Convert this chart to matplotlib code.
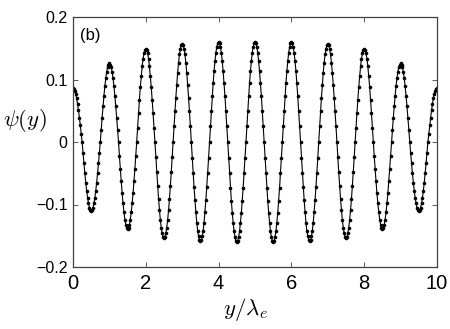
import numpy as np
import matplotlib
matplotlib.use("Agg")
import matplotlib.pyplot as plt

plt.rcParams["font.family"] = ["Liberation Sans", "DejaVu Sans"]
plt.rcParams["mathtext.fontset"] = "cm"

psi = [
    0.086, 0.085, 0.082, 0.077, 0.070, 0.061, 0.051, 0.039, 0.027, 0.013, 0.000,
    # trough at 0.5
    -0.017, -0.034, -0.050, -0.065, -0.078, -0.089, -0.098, -0.105, -0.109, -0.110,
    -0.109, -0.105, -0.098, -0.089, -0.078, -0.065, -0.050, -0.034, -0.017, 0.000,
    # peak at 1
    0.020, 0.039, 0.057, 0.074, 0.089, 0.102, 0.112, 0.120, 0.124, 0.126,
    0.124, 0.120, 0.112, 0.102, 0.089, 0.074, 0.057, 0.039, 0.020, 0.000,
    # trough at 1.5
    -0.022, -0.043, -0.063, -0.082, -0.098, -0.112, -0.124, -0.132, -0.137, -0.139,
    -0.137, -0.132, -0.124, -0.112, -0.098, -0.082, -0.063, -0.043, -0.022, 0.000,
    # peak at 2
    0.023, 0.046, 0.068, 0.088, 0.105, 0.121, 0.133, 0.142, 0.147, 0.149,
    0.147, 0.142, 0.133, 0.121, 0.105, 0.088, 0.068, 0.046, 0.023, 0.000,
    # trough at 2.5
    -0.024, -0.048, -0.070, -0.091, -0.109, -0.125, -0.137, -0.146, -0.152, -0.154,
    -0.152, -0.146, -0.137, -0.125, -0.109, -0.091, -0.070, -0.048, -0.024, 0.000,
    # peak at 3
    0.025, 0.049, 0.071, 0.092, 0.111, 0.127, 0.140, 0.149, 0.155, 0.157,
    0.155, 0.149, 0.140, 0.127, 0.111, 0.092, 0.071, 0.049, 0.025, 0.000,
    # trough at 3.5
    -0.025, -0.049, -0.072, -0.093, -0.112, -0.129, -0.142, -0.151, -0.157, -0.159,
    -0.157, -0.151, -0.142, -0.129, -0.112, -0.093, -0.072, -0.049, -0.025, 0.000,
    # peak at 4
    0.025, 0.049, 0.073, 0.094, 0.113, 0.129, 0.143, 0.152, 0.158, 0.160,
    0.158, 0.152, 0.143, 0.129, 0.113, 0.094, 0.073, 0.049, 0.025, 0.000,
    # trough at 4.5
    -0.025, -0.049, -0.073, -0.094, -0.113, -0.129, -0.143, -0.152, -0.158, -0.160,
    -0.158, -0.152, -0.143, -0.129, -0.113, -0.094, -0.073, -0.049, -0.025, 0.000,
    # peak at 5
    0.025, 0.049, 0.073, 0.094, 0.113, 0.129, 0.143, 0.152, 0.158, 0.160,
    0.158, 0.152, 0.143, 0.129, 0.113, 0.094, 0.073, 0.049, 0.025, 0.000,
    # trough at 5.5
    -0.025, -0.049, -0.073, -0.094, -0.113, -0.129, -0.143, -0.152, -0.158, -0.160,
    -0.158, -0.152, -0.143, -0.129, -0.113, -0.094, -0.073, -0.049, -0.025, 0.000,
    # peak at 6
    0.025, 0.049, 0.073, 0.094, 0.113, 0.129, 0.143, 0.152, 0.158, 0.160,
    0.158, 0.152, 0.143, 0.129, 0.113, 0.094, 0.073, 0.049, 0.025, 0.000,
    # trough at 6.5
    -0.025, -0.049, -0.072, -0.093, -0.112, -0.129, -0.142, -0.151, -0.157, -0.159,
    -0.157, -0.151, -0.142, -0.129, -0.112, -0.093, -0.072, -0.049, -0.025, 0.000,
    # peak at 7
    0.025, 0.049, 0.071, 0.092, 0.111, 0.127, 0.140, 0.149, 0.155, 0.157,
    0.155, 0.149, 0.140, 0.127, 0.111, 0.092, 0.071, 0.049, 0.025, 0.000,
    # trough at 7.5
    -0.024, -0.048, -0.070, -0.091, -0.109, -0.125, -0.137, -0.146, -0.152, -0.154,
    -0.152, -0.146, -0.137, -0.125, -0.109, -0.091, -0.070, -0.048, -0.024, 0.000,
    # peak at 8
    0.023, 0.046, 0.068, 0.088, 0.105, 0.121, 0.133, 0.142, 0.147, 0.149,
    0.147, 0.142, 0.133, 0.121, 0.105, 0.088, 0.068, 0.046, 0.023, 0.000,
    # trough at 8.5
    -0.022, -0.043, -0.063, -0.082, -0.098, -0.112, -0.124, -0.132, -0.137, -0.139,
    -0.137, -0.132, -0.124, -0.112, -0.098, -0.082, -0.063, -0.043, -0.022, 0.000,
    # peak at 9
    0.020, 0.039, 0.057, 0.074, 0.089, 0.102, 0.112, 0.120, 0.124, 0.126,
    0.124, 0.120, 0.112, 0.102, 0.089, 0.074, 0.057, 0.039, 0.020, 0.000,
    # trough at 9.5
    -0.017, -0.034, -0.050, -0.065, -0.078, -0.089, -0.098, -0.105, -0.109, -0.110,
    -0.109, -0.105, -0.098, -0.089, -0.078, -0.065, -0.050, -0.034, -0.017, 0.000,
    # up to 10
    0.013, 0.027, 0.039, 0.051, 0.061, 0.070, 0.077, 0.082, 0.085, 0.086,
]
y_lam = np.linspace(0.0, 10.0, len(psi))

x_ticks = [0, 2, 4, 6, 8, 10]
y_ticks = [-0.2, -0.1, 0, 0.1, 0.2]
y_ticklabels = ["\u22120.2", "\u22120.1", "0", "0.1", "0.2"]

fig = plt.figure(figsize=(4.5, 3.29), dpi=100)
ax = fig.add_axes([73/450, 1 - 267/329, 364/450, 250/329])

ax.plot(y_lam, psi, "-", color="black", linewidth=0.8,
        marker="o", markersize=2.6, markerfacecolor="black", markeredgewidth=0)

ax.set_xlim(0, 10)
ax.set_ylim(-0.2, 0.2)
ax.set_xticks(x_ticks)
ax.set_xticklabels([str(t) for t in x_ticks], fontsize=14.5)
ax.set_yticks(y_ticks)
ax.set_yticklabels(y_ticklabels, fontsize=11.5)
ax.tick_params(direction="in", top=True, right=True, length=3.5, width=0.6, color="0.25")
ax.tick_params(axis="x", pad=5)
ax.tick_params(axis="y", pad=4)
for s in ax.spines.values():
    s.set_color("0.25")
    s.set_linewidth(0.9)

ax.set_ylabel(r"$\psi(y)$", fontsize=16.5, rotation=0, ha="center", va="center")
ax.yaxis.set_label_coords(-0.132, 0.588)
ax.set_xlabel(r"$y/\lambda_e$", fontsize=16.5, va="center")
ax.xaxis.set_label_coords(0.473, -0.17)

ax.text(0.02, 0.955, "(b)", transform=ax.transAxes, fontsize=12, ha="left", va="top")

fig.savefig("out.png", dpi=100)
